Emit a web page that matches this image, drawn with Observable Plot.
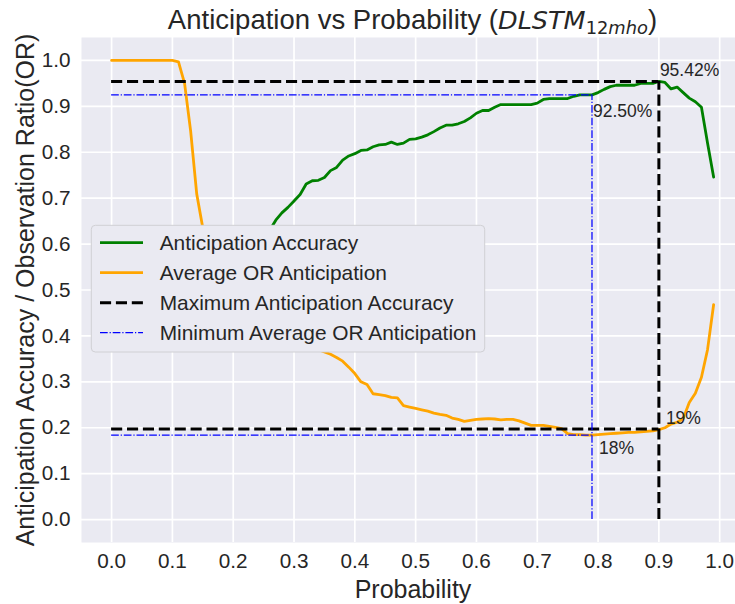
<!DOCTYPE html>
<html><head><meta charset="utf-8">
<script src="https://cdn.jsdelivr.net/npm/d3@7"></script>
<script src="https://cdn.jsdelivr.net/npm/@observablehq/plot@0.6"></script>
<style>
body{margin:0;background:#fff;}
#wrap{position:relative;width:735px;height:604px;font-family:"Liberation Sans",Arial,sans-serif;color:#262626;background:#fff;overflow:hidden;}
#title{position:absolute;left:90px;width:645px;top:6px;text-align:center;font-size:27.5px;line-height:1;white-space:nowrap;}
#title .m{font-family:"DejaVu Sans";font-style:italic;font-size:25.5px;}
#title sub{font-size:70%;vertical-align:-0.28em;line-height:0;}
#title sub .u{font-style:normal;}
#chart{position:absolute;left:0;top:37px;}
</style></head><body>
<div id="wrap">
  <div id="title">Anticipation vs Probability (<span class="m">DLSTM<sub><span class="u">12</span>mho</sub></span>)</div>
  <div id="chart"></div>
</div>
<script>
// ---- data ----
const xTicks = [0.0, 0.1, 0.2, 0.3, 0.4, 0.5, 0.6, 0.7, 0.8, 0.9, 1.0];
const yTicks = [0.0, 0.1, 0.2, 0.3, 0.4, 0.5, 0.6, 0.7, 0.8, 0.9, 1.0];

const accProb = [0.20,0.22,0.24,0.26,0.27,0.28,0.29,0.30,0.31,0.32,0.33,0.34,0.35,0.36,0.37,0.38,0.39,0.40,0.41,0.42,0.43,0.44,0.45,0.46,0.47,0.48,0.49,0.50,0.51,0.52,0.53,0.54,0.55,0.56,0.57,0.58,0.59,0.60,0.61,0.62,0.63,0.64,0.65,0.66,0.67,0.68,0.69,0.70,0.71,0.72,0.73,0.74,0.75,0.76,0.77,0.78,0.79,0.80,0.81,0.82,0.83,0.84,0.85,0.86,0.87,0.88,0.89,0.90,0.91,0.92,0.93,0.94,0.95,0.96,0.97,0.98,0.99];
const accValue = [0.48,0.53,0.58,0.63,0.652,0.668,0.68,0.694,0.708,0.731,0.738,0.739,0.745,0.76,0.767,0.783,0.792,0.797,0.804,0.805,0.812,0.816,0.817,0.822,0.817,0.82,0.828,0.829,0.833,0.838,0.845,0.853,0.859,0.859,0.862,0.867,0.875,0.885,0.891,0.891,0.898,0.904,0.904,0.904,0.904,0.904,0.904,0.907,0.915,0.917,0.917,0.917,0.917,0.922,0.925,0.925,0.925,0.930,0.937,0.943,0.946,0.946,0.946,0.946,0.950,0.950,0.950,0.9542,0.952,0.938,0.942,0.93,0.918,0.91,0.898,0.82,0.746];

const orProb = [0.00,0.01,0.02,0.03,0.04,0.05,0.06,0.07,0.08,0.09,0.10,0.11,0.12,0.13,0.14,0.15,0.16,0.18,0.20,0.25,0.30,0.34,0.36,0.37,0.38,0.39,0.40,0.41,0.42,0.43,0.44,0.45,0.46,0.47,0.48,0.49,0.50,0.51,0.52,0.53,0.54,0.55,0.56,0.57,0.58,0.59,0.60,0.61,0.62,0.63,0.64,0.65,0.66,0.67,0.68,0.69,0.70,0.71,0.72,0.73,0.74,0.75,0.76,0.77,0.78,0.79,0.80,0.81,0.82,0.83,0.84,0.85,0.86,0.87,0.88,0.89,0.90,0.91,0.92,0.93,0.94,0.95,0.96,0.97,0.98,0.99];
const orValue = [1,1,1,1,1,1,1,1,1,1,1,0.997,0.95,0.846,0.709,0.635,0.575,0.505,0.465,0.42,0.39,0.37,0.36,0.353,0.345,0.332,0.318,0.30,0.294,0.274,0.272,0.270,0.266,0.265,0.248,0.245,0.242,0.239,0.236,0.232,0.229,0.227,0.221,0.218,0.214,0.216,0.218,0.219,0.22,0.219,0.217,0.218,0.218,0.215,0.21,0.205,0.205,0.205,0.203,0.201,0.198,0.187,0.185,0.185,0.184,0.184,0.185,0.186,0.187,0.188,0.189,0.19,0.19,0.191,0.192,0.193,0.196,0.20,0.208,0.212,0.22,0.255,0.275,0.31,0.37,0.468];

const maxProb = 0.90, maxAcc = 0.9542, orAtMax = 0.197;
const minProb = 0.79, minOR = 0.184, accAtMin = 0.925;
const annoLabels = ["95.42%", "92.50%", "19%", "18%"];
const legendLabels = ["Anticipation Accuracy", "Average OR Anticipation", "Maximum Anticipation Accuracy", "Minimum Average OR Anticipation"];
const xLabel = "Probability";
const yLabel = "Anticipation Accuracy / Observation Ratio(OR)";

// ---- tables ----
const accData = accProb.map((p, i) => ({p, v: accValue[i]}));
const orData = orProb.map((p, i) => ({p, v: orValue[i]}));

const BLACK_DASH = "11.1,4.8";
const BLUE_DASH = "7.7,1.9,1.2,1.9";
const annoStyle = {fontSize: 17.5, fill: "#262626", textAnchor: "start", lineAnchor: "bottom"};

const chart = Plot.plot({
  width: 735, height: 567,
  marginLeft: 81, marginRight: 0, marginTop: 0, marginBottom: 62,
  style: {fontFamily: "'Liberation Sans', Arial, sans-serif", fontSize: "20.7px", color: "#262626", background: "transparent", overflow: "visible"},
  x: {domain: [-0.0495, 1.026]},
  y: {domain: [-0.05, 1.05]},
  marks: [
    Plot.frame({fill: "#EAEAF2", stroke: "none"}),
    Plot.gridX(xTicks, {stroke: "white", strokeOpacity: 1, strokeWidth: 1.7}),
    Plot.gridY(yTicks, {stroke: "white", strokeOpacity: 1, strokeWidth: 1.7}),
    Plot.axisX({ticks: xTicks, tickSize: 0, tickPadding: 11, label: null, tickFormat: d => d.toFixed(1)}),
    Plot.axisY({ticks: yTicks, tickSize: 0, tickPadding: 11, label: null, tickFormat: d => d.toFixed(1)}),
    Plot.line(accData, {x: "p", y: "v", stroke: "green", strokeWidth: 2.8}),
    Plot.line(orData, {x: "p", y: "v", stroke: "orange", strokeWidth: 2.8}),
    Plot.ruleY([maxAcc], {x1: 0, x2: maxProb, stroke: "black", strokeWidth: 3, strokeDasharray: BLACK_DASH}),
    Plot.ruleY([orAtMax], {x1: 0, x2: maxProb, stroke: "black", strokeWidth: 3, strokeDasharray: BLACK_DASH}),
    Plot.ruleX([maxProb], {y1: 0, y2: maxAcc, stroke: "black", strokeWidth: 3, strokeDasharray: BLACK_DASH}),
    Plot.ruleY([accAtMin], {x1: 0, x2: minProb, stroke: "blue", strokeWidth: 1.25, strokeDasharray: BLUE_DASH}),
    Plot.ruleY([minOR], {x1: 0, x2: minProb, stroke: "blue", strokeWidth: 1.25, strokeDasharray: BLUE_DASH}),
    Plot.ruleX([minProb], {y1: 0, y2: accAtMin, stroke: "blue", strokeWidth: 1.25, strokeDasharray: BLUE_DASH}),
    Plot.text([{x: maxProb, y: maxAcc, t: annoLabels[0]}], {x: "x", y: "y", text: "t", dx: 1, dy: -5, ...annoStyle}),
    Plot.text([{x: minProb, y: accAtMin, t: annoLabels[1]}], {x: "x", y: "y", text: "t", dx: 1, dy: 22, ...annoStyle}),
    Plot.text([{x: maxProb, y: orAtMax, t: annoLabels[2]}], {x: "x", y: "y", text: "t", dx: 7, dy: -5, ...annoStyle}),
    Plot.text([{x: minProb, y: minOR, t: annoLabels[3]}], {x: "x", y: "y", text: "t", dx: 7, dy: 18.5, ...annoStyle}),
    Plot.text([xLabel], {text: d => d, frameAnchor: "bottom", textAnchor: "middle", dx: 4.5, dy: 55, lineAnchor: "bottom", fontSize: 25, fill: "#262626"}),
    Plot.text([yLabel], {text: d => d, frameAnchor: "left", textAnchor: "middle", rotate: -90, dx: -48, lineAnchor: "bottom", fontSize: 25, fill: "#262626"})
  ]
});
document.getElementById("chart").appendChild(chart);

// ---- legend ----
const legendStyles = [
  {stroke: "green", width: 2.8, dash: null},
  {stroke: "orange", width: 2.8, dash: null},
  {stroke: "black", width: 3, dash: BLACK_DASH},
  {stroke: "blue", width: 1.25, dash: BLUE_DASH}
];
const svg = d3.select(chart);
const lg = svg.append("g").attr("transform", "translate(91.3,188.3)");
lg.append("rect").attr("width", 393.4).attr("height", 126.7).attr("rx", 4).attr("ry", 4)
  .attr("fill", "#EAEAF2").attr("fill-opacity", 1).attr("stroke", "#d0d0d4").attr("stroke-width", 1);
legendLabels.forEach((label, i) => {
  const yy = 17.4 + i * 30;
  const s = legendStyles[i];
  const ln = lg.append("line").attr("x1", 8.7).attr("x2", 51.7).attr("y1", yy).attr("y2", yy)
    .attr("stroke", s.stroke).attr("stroke-width", s.width);
  if (s.dash) ln.attr("stroke-dasharray", s.dash);
  lg.append("text").attr("x", 68.4).attr("y", yy + 7.2).attr("fill", "#262626")
    .attr("text-anchor", "start").attr("font-size", "20.9px").text(label);
});
</script>
</body></html>
